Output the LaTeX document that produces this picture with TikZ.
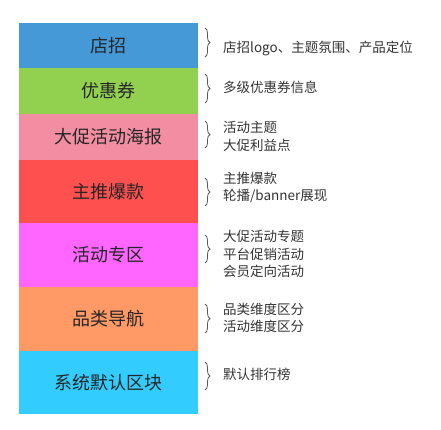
\documentclass[tikz,border=0pt]{standalone}
\usepackage{fontspec}
\newfontfamily\cjk{Noto Sans CJK SC}
\usetikzlibrary{positioning, decorations.pathreplacing}

\definecolor{cZhao}{HTML}{4499D6}
\definecolor{cQuan}{HTML}{92D050}
\definecolor{cHaibao}{HTML}{F28DA2}
\definecolor{cBaokuan}{HTML}{FF5050}
\definecolor{cZhuanqu}{HTML}{FF66FF}
\definecolor{cDaohang}{HTML}{FF9966}
\definecolor{cMoren}{HTML}{33CCFF}

\begin{document}
\begin{tikzpicture}[x=1pt,y=-1pt]
  \tikzstyle{block}=[minimum width=179pt, inner sep=0pt, outer sep=0pt, font=\cjk\fontsize{18}{18}\selectfont, text=black!85]
  \tikzstyle{note}=[anchor=west, align=left, inner sep=0pt, font=\cjk\fontsize{13.5}{17.5}\selectfont, text=black!80]
  \tikzstyle{bracket}=[decorate, decoration={brace, amplitude=5pt}, draw=black!65, line width=0.8pt]
  \useasboundingbox (0,0) rectangle (441,429);

  \node[block, fill=cZhao, minimum height=45pt, anchor=north west] (B_zhao) at (19,23) {店招};
  \node[block, fill=cQuan, minimum height=46pt, below=0pt of B_zhao] (B_quan) {优惠券};
  \node[block, fill=cHaibao, minimum height=46pt, below=0pt of B_quan] (B_haibao) {大促活动海报};
  \node[block, fill=cBaokuan, minimum height=63pt, below=0pt of B_haibao] (B_baokuan) {主推爆款};
  \node[block, fill=cZhuanqu, minimum height=64pt, below=0pt of B_baokuan] (B_zhuanqu) {活动专区};
  \node[block, fill=cDaohang, minimum height=64pt, below=0pt of B_zhuanqu] (B_daohang) {品类导航};
  \node[block, fill=cMoren, minimum height=63pt, below=0pt of B_daohang] (B_moren) {系统默认区块};

  \node[note] (N_zhao) at (223,48) {店招logo、主题氛围、产品定位};
  \node[note] (N_quan) at (223,87) {多级优惠券信息};
  \node[note] (N_haibao) at (223,136.5) {活动主题\\大促利益点};
  \node[note] (N_baokuan) at (223,187.5) {主推爆款\\轮播/banner展现};
  \node[note] (N_zhuanqu) at (223,254) {大促活动专题\\平台促销活动\\会员定向活动};
  \node[note] (N_daohang) at (223,318) {品类维度区分\\活动维度区分};
  \node[note] (N_moren) at (223,374) {默认排行榜};

  \draw[bracket] (205,28) -- (205,57);
  \draw[bracket] (205,74) -- (205,103);
  \draw[bracket] (205,121) -- (205,148);
  \draw[bracket] (205,178) -- (205,206);
  \draw[bracket] (205,235) -- (205,263);
  \draw[bracket] (205,304) -- (205,333);
  \draw[bracket] (205,362) -- (205,390);
\end{tikzpicture}
\end{document}
